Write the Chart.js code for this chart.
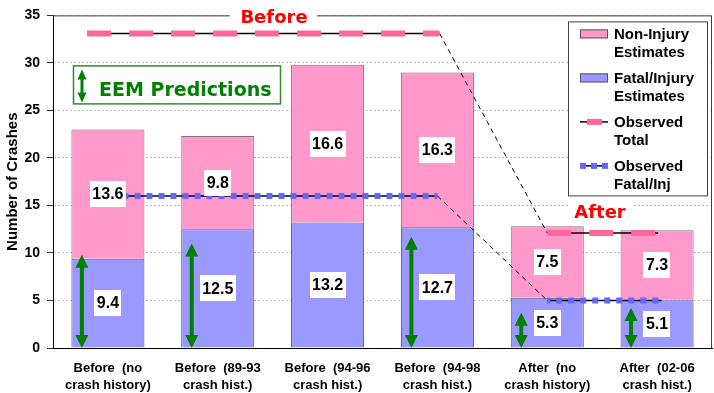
<!DOCTYPE html>
<html lang="en">
<head>
<meta charset="UTF-8">
<title>EEM Predictions vs Observed Crashes</title>
<script src="https://cdn.jsdelivr.net/npm/chart.js"></script>
<style>
  body { margin: 0; background: #fff; }
  .wrap { width: 714px; height: 393px; }
</style>
</head>
<body>
<div class="wrap"><canvas id="crashChart" width="714" height="393"></canvas></div>
<script>
// categories (two-line axis labels)
const categories = [
  ['Before  (no', 'crash history)'],
  ['Before  (89-93', 'crash hist.)'],
  ['Before  (94-96', 'crash hist.)'],
  ['Before  (94-98', 'crash hist.)'],
  ['After  (no', 'crash history)'],
  ['After  (02-06', 'crash hist.)']
];
// EEM estimates
const fatalInjury = [9.4, 12.5, 13.2, 12.7, 5.3, 5.1];
const nonInjury = [13.6, 9.8, 16.6, 16.3, 7.5, 7.3];
// observed counts, x on the category index scale
const observedTotal = [{x: -0.19, y: 33.1}, {x: 3.02, y: 33.1}, {x: 4.0, y: 12.1}, {x: 5.01, y: 12.1}];
const observedFatal = [{x: 0.16, y: 16.0}, {x: 3.0, y: 16.0}, {x: 4.0, y: 5.0}, {x: 5.04, y: 5.0}];
// top of the green EEM arrows in each bar (null = none)
const arrowTops = [9.8, 11.0, null, 11.7, 3.7, 4.2];
const yTicks = [0, 5, 10, 15, 20, 25, 30, 35];

const PINK = '#FF99CC', BLUE = '#9999FF', OBS_PINK = '#FF6699', OBS_BLUE = '#6666FF', GREEN = '#007F00';
const FONT = "'Liberation Sans', Arial, sans-serif";

const jump = ctx => ctx.p0.parsed.y !== ctx.p1.parsed.y;

function drawArrow(ctx, x, yTop, yBot, headW, headH, shaft) {
  ctx.save();
  ctx.fillStyle = GREEN;
  ctx.strokeStyle = GREEN;
  ctx.lineWidth = shaft;
  ctx.beginPath();
  ctx.moveTo(x, yTop + headH - 1);
  ctx.lineTo(x, yBot - headH + 1);
  ctx.stroke();
  ctx.beginPath();
  ctx.moveTo(x, yTop);
  ctx.lineTo(x - headW / 2, yTop + headH);
  ctx.lineTo(x + headW / 2, yTop + headH);
  ctx.closePath();
  ctx.fill();
  ctx.beginPath();
  ctx.moveTo(x, yBot);
  ctx.lineTo(x - headW / 2, yBot - headH);
  ctx.lineTo(x + headW / 2, yBot - headH);
  ctx.closePath();
  ctx.fill();
  ctx.restore();
}

const overlay = {
  id: 'overlay',
  afterDatasetsDraw(chart) {
    const {ctx} = chart;
    const yScale = chart.scales.y;
    // green arrows
    const fatalMeta = chart.getDatasetMeta(0);
    arrowTops.forEach((top, i) => {
      if (top == null) return;
      const bar = fatalMeta.data[i];
      drawArrow(ctx, bar.x - bar.width / 2 + 10.5, yScale.getPixelForValue(top), yScale.getPixelForValue(0), 13, 13, 4);
    });
    // value labels in white boxes
    ctx.save();
    ctx.font = 'bold 16px ' + FONT;
    ctx.textAlign = 'center';
    ctx.textBaseline = 'middle';
    [0, 1].forEach(di => {
      chart.getDatasetMeta(di).data.forEach((bar, i) => {
        const txt = chart.data.datasets[di].data[i].toFixed(1);
        const cy = (bar.y + bar.base) / 2;
        const w = ctx.measureText(txt).width + 5;
        ctx.fillStyle = '#fff';
        ctx.fillRect(Math.round(bar.x - w / 2), Math.round(cy - 13), Math.round(w), 26);
        ctx.fillStyle = '#000';
        ctx.fillText(txt, bar.x, cy + 1);
      });
    });
    ctx.restore();
  },
  afterDraw(chart) {
    const {ctx, chartArea: a} = chart;
    ctx.save();
    // plot frame top / right
    ctx.strokeStyle = '#404040';
    ctx.lineWidth = 1;
    ctx.beginPath();
    ctx.moveTo(a.left, a.top + 0.5);
    ctx.lineTo(a.right - 0.5, a.top + 0.5);
    ctx.lineTo(a.right - 0.5, a.bottom);
    ctx.stroke();

    // Before / After headings
    ctx.font = 'bold 18px "DejaVu Sans", Verdana, sans-serif';
    ctx.textAlign = 'center';
    ctx.textBaseline = 'alphabetic';
    ctx.fillStyle = '#fff';
    ctx.fillRect(a.left + 177, a.top - 10, 87, 22);
    ctx.fillRect(a.left + 515, a.top + 187, 64, 20);
    ctx.fillStyle = '#FF0000';
    ctx.fillText('Before', a.left + 221, a.top + 8);
    ctx.fillText('After', a.left + 547, a.top + 203);

    // EEM Predictions box
    const bx = a.left + 20, by = a.top + 50;
    ctx.fillStyle = '#fff';
    ctx.fillRect(bx, by, 207, 38);
    ctx.strokeStyle = '#2E8B2E';
    ctx.lineWidth = 1.5;
    ctx.strokeRect(bx + 0.5, by + 0.5, 207, 38);
    drawArrow(ctx, bx + 9, by + 4, by + 37, 9, 10, 3);
    ctx.font = 'bold 19px "DejaVu Sans", Verdana, sans-serif';
    ctx.textAlign = 'left';
    ctx.fillStyle = GREEN;
    ctx.fillText('EEM Predictions', bx + 26, by + 31);

    // legend
    const lx = a.right - 144, ly = a.top + 6;
    ctx.fillStyle = '#fff';
    ctx.fillRect(lx, ly, 139, 174);
    ctx.strokeStyle = '#404040';
    ctx.lineWidth = 1;
    ctx.strokeRect(lx + 0.5, ly + 0.5, 139, 174);
    const entries = [
      {lines: ['Non-Injury', 'Estimates'], type: 'box', color: PINK},
      {lines: ['Fatal/Injury', 'Estimates'], type: 'box', color: BLUE},
      {lines: ['Observed', 'Total'], type: 'dash', color: OBS_PINK},
      {lines: ['Observed', 'Fatal/Inj'], type: 'dots', color: OBS_BLUE}
    ];
    ctx.font = 'bold 15px ' + FONT;
    entries.forEach((e, i) => {
      const base = ly + 18 + i * 44;
      const sy = base - 5.5;
      const sx = lx + 12;
      if (e.type === 'box') {
        ctx.fillStyle = e.color;
        ctx.fillRect(sx, sy - 4.5, 28, 9);
        ctx.strokeStyle = '#555';
        ctx.strokeRect(sx + 0.5, sy - 4, 27, 8);
      } else {
        ctx.strokeStyle = '#000';
        ctx.lineWidth = 1.5;
        ctx.beginPath();
        ctx.moveTo(sx, sy);
        ctx.lineTo(sx + 28, sy);
        ctx.stroke();
        ctx.fillStyle = e.color;
        if (e.type === 'dash') {
          ctx.fillRect(sx + 7, sy - 3, 15, 6);
        } else {
          [0, 11, 22].forEach(o => ctx.fillRect(sx + o, sy - 3, 6, 6));
        }
      }
      ctx.fillStyle = '#000';
      ctx.fillText(e.lines[0], lx + 46, base);
      ctx.fillText(e.lines[1], lx + 46, base + 18);
    });
    ctx.restore();
  }
};

const lineBase = { type: 'line', xAxisID: 'x2', yAxisID: 'y2', pointRadius: 0 };

new Chart(document.getElementById('crashChart'), {
  type: 'bar',
  data: {
    labels: categories,
    datasets: [
      {
        type: 'bar', label: 'Fatal/Injury Estimates', data: fatalInjury,
        backgroundColor: BLUE, borderColor: '#505070', borderWidth: 1,
        grouped: false, order: 3, barPercentage: 0.665, categoryPercentage: 1
      },
      {
        type: 'bar', label: 'Non-Injury Estimates', data: nonInjury,
        backgroundColor: PINK, borderColor: '#8a6a80', borderWidth: 1,
        grouped: false, order: 3, barPercentage: 0.665, categoryPercentage: 1
      },
      {
        ...lineBase, label: 'Observed Total', data: observedTotal,
        borderColor: '#000', borderWidth: 1.5, order: 2,
        segment: {
          borderDash: ctx => jump(ctx) ? [5, 4] : undefined,
          borderWidth: ctx => jump(ctx) ? 1 : 1.5
        }
      },
      {
        ...lineBase, label: 'Observed Total marks', data: observedTotal,
        borderColor: OBS_PINK, borderWidth: 6, borderDash: [24, 18], borderCapStyle: 'butt', order: 1,
        segment: { borderColor: ctx => jump(ctx) ? 'rgba(0,0,0,0)' : undefined }
      },
      {
        ...lineBase, label: 'Observed Fatal/Inj', data: observedFatal,
        borderColor: '#000', borderWidth: 1.5, order: 2,
        segment: {
          borderDash: ctx => jump(ctx) ? [5, 4] : undefined,
          borderWidth: ctx => jump(ctx) ? 1 : 1.5
        }
      },
      {
        ...lineBase, label: 'Observed Fatal/Inj marks', data: observedFatal,
        borderColor: OBS_BLUE, borderWidth: 6, borderDash: [6, 6], borderDashOffset: 3, borderCapStyle: 'butt', order: 1,
        segment: { borderColor: ctx => jump(ctx) ? 'rgba(0,0,0,0)' : undefined }
      }
    ]
  },
  options: {
    responsive: false,
    animation: false,
    devicePixelRatio: 1,
    layout: { padding: { top: 15, right: 2, left: 0, bottom: 0 } },
    plugins: { legend: { display: false }, tooltip: { enabled: false } },
    scales: {
      x: {
        stacked: true,
        grid: { display: false, drawTicks: false },
        border: { color: '#000', width: 1 },
        ticks: { color: '#000', padding: 12, maxRotation: 0, autoSkip: false, font: { family: FONT, weight: 'bold', size: 13, lineHeight: 1.3 } },
        afterFit: s => { s.height = 45; }
      },
      x2: { type: 'linear', display: false, offset: false, min: -0.5, max: 5.5 },
      y: {
        stacked: true, min: 0, max: 35,
        afterBuildTicks: s => { s.ticks = yTicks.map(v => ({value: v})); },
        grid: { color: '#BDBDBD', tickColor: '#333', tickLength: 6 },
        border: { color: '#000', width: 1, dash: [2, 2] },
        ticks: { color: '#000', padding: 7, font: { family: FONT, weight: 'bold', size: 14 } },
        title: { display: true, text: 'Number of Crashes', color: '#000', padding: { top: 4, bottom: 0 }, font: { family: FONT, weight: 'bold', size: 15 } },
        afterFit: s => { s.width = 53; }
      },
      y2: { type: 'linear', display: false, min: 0, max: 35, stacked: false }
    }
  },
  plugins: [overlay]
});
</script>
</body>
</html>
